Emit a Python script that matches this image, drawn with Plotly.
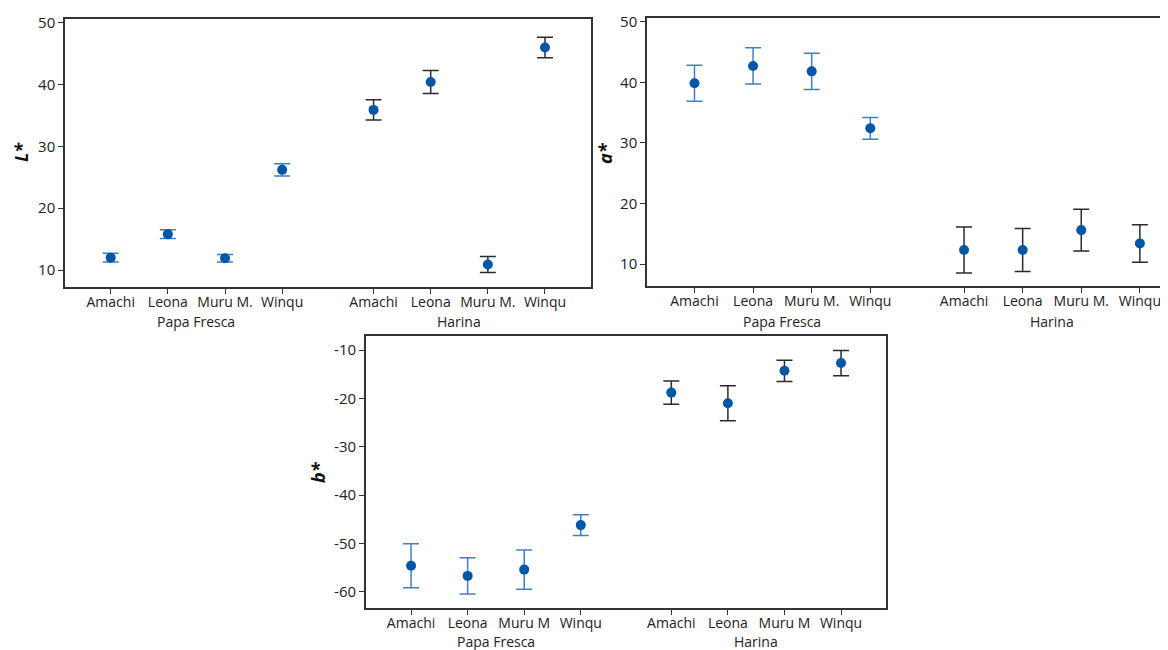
import plotly.graph_objects as go

varieties_L = ["Amachi", "Leona", "Muru M.", "Winqu"]
varieties_a = ["Amachi", "Leona", "Muru M.", "Winqu"]
varieties_b = ["Amachi", "Leona", "Muru M", "Winqu"]
groups = ["Papa Fresca", "Harina"]

ticks_La = [10, 20, 30, 40, 50]
ticks_b = [-60, -50, -40, -30, -20, -10]
ticks_b_text = ["-60", "-50", "-40", "-30", "-20", "-10"]

# L*
L_fresca = [12.0, 15.8, 11.9, 26.2]
L_fresca_err = [0.7, 0.7, 0.6, 1.0]
L_harina = [35.9, 40.4, 10.9, 46.0]
L_harina_err = [1.65, 1.85, 1.3, 1.65]

# a*
a_fresca = [39.85, 42.7, 41.8, 32.4]
a_fresca_err = [2.97, 3.0, 3.0, 1.8]
a_harina = [12.3, 12.3, 15.6, 13.4]
a_harina_err = [3.8, 3.55, 3.45, 3.1]

# b*
b_fresca = [-54.6, -56.7, -55.4, -46.2]
b_fresca_err = [4.55, 3.75, 4.05, 2.15]
b_harina = [-18.8, -21.0, -14.3, -12.7]
b_harina_err = [2.4, 3.6, 2.2, 2.6]

pos_fresca = [0, 1, 2, 3]
pos_harina = [4.6, 5.6, 6.6, 7.6]

MARKER = "#0057a8"
ERR_F = "#3f7fc4"
ERR_H = "#2b2b2b"
FONT = "Open Sans"

fig = go.Figure()

panels = [
    ("x", "y", L_fresca, L_fresca_err, L_harina, L_harina_err),
    ("x2", "y2", a_fresca, a_fresca_err, a_harina, a_harina_err),
    ("x3", "y3", b_fresca, b_fresca_err, b_harina, b_harina_err),
]
for xa, ya, vf, ef, vh, eh in panels:
    fig.add_trace(go.Scatter(
        x=pos_fresca, y=vf, mode="markers", xaxis=xa, yaxis=ya,
        marker=dict(color=MARKER, size=10),
        error_y=dict(type="data", array=ef, visible=True, color=ERR_F,
                     thickness=1.5, width=8),
        showlegend=False))
    fig.add_trace(go.Scatter(
        x=pos_harina, y=vh, mode="markers", xaxis=xa, yaxis=ya,
        marker=dict(color=MARKER, size=10),
        error_y=dict(type="data", array=eh, visible=True, color=ERR_H,
                     thickness=1.5, width=8),
        showlegend=False))

# page body has an 8px margin; the figure is placed at (8, 8) on screen
OFF = 8
W, H = 1160, 642

def xdom(l, r):
    return [max(0, (l - OFF) / W), min(1, (r - OFF) / W)]

def ydom(top, bottom):
    return [1 - (bottom - OFF) / H, 1 - (top - OFF) / H]

def px_x(x):
    return (x - OFF) / W

def px_y(y):
    return 1 - (y - OFF) / H

axis_common = dict(showgrid=False, zeroline=False, showline=True,
                   linecolor="#333333", linewidth=1.5, ticks="outside",
                   ticklen=5, tickcolor="#333333", automargin=False,
                   tickfont=dict(family=FONT, size=14, color="#222222"))
xextra = dict(ticklabelstandoff=-4)
yfont = dict(family=FONT, size=15, color="#222222")

pos_all = pos_fresca + pos_harina

fig.update_layout(
    template="none",
    width=W, height=H, margin=dict(l=0, r=0, t=0, b=0, pad=0),
    plot_bgcolor="white", paper_bgcolor="white",
    xaxis=dict(domain=xdom(65, 590.7), range=[-0.8, 8.4], anchor="y",
               tickvals=pos_all, ticktext=varieties_L * 2, mirror=True,
               **axis_common, **xextra),
    yaxis=dict(domain=ydom(19, 287), range=[7.25, 50.6], anchor="x",
               tickvals=ticks_La, mirror=True,
               **{**axis_common, "tickfont": yfont}),
    xaxis2=dict(domain=xdom(647, 1168), range=[-0.81, 8.08], anchor="y2",
                tickvals=pos_all, ticktext=varieties_a * 2, mirror=True,
                **axis_common, **xextra),
    yaxis2=dict(domain=ydom(18.3, 286), range=[6.37, 50.56], anchor="x2",
                tickvals=ticks_La, mirror=False,
                **{**axis_common, "tickfont": yfont}),
    xaxis3=dict(domain=xdom(365.8, 886.3), range=[-0.8, 8.4], anchor="y3",
                tickvals=pos_all, ticktext=varieties_b * 2, mirror=True,
                **axis_common, **xextra),
    yaxis3=dict(domain=ydom(336, 608.3), range=[-63.4, -7.1], anchor="x3",
                tickvals=ticks_b, ticktext=ticks_b_text, mirror=True,
                **{**axis_common, "tickfont": yfont}),
)

annotations = []
# group labels
for xa, ypx in [("x", 322), ("x2", 322), ("x3", 641)]:
    for gname, cx in zip(groups, [1.5, 6.1]):
        annotations.append(dict(x=cx, xref=xa, y=px_y(ypx), yref="paper",
                                text=gname, showarrow=False,
                                font=dict(family=FONT, size=14, color="#222222"),
                                xanchor="center", yanchor="middle"))
# axis titles
for txt, xpx, ypx in [("L*", 21, 152), ("a*", 605, 153), ("b*", 318, 472)]:
    annotations.append(dict(x=px_x(xpx), xref="paper", y=px_y(ypx), yref="paper",
                            text="<b><i>%s</i></b>" % txt, showarrow=False,
                            textangle=-90,
                            font=dict(family=FONT, size=18, color="#111111"),
                            xanchor="center", yanchor="middle"))
fig.update_layout(annotations=annotations)

fig.write_html("out.html")
